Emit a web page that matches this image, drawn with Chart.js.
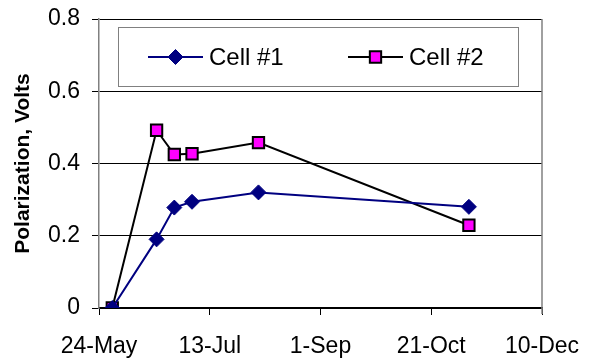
<!DOCTYPE html>
<html>
<head>
<meta charset="utf-8">
<script src="https://cdn.jsdelivr.net/npm/chart.js@4/dist/chart.umd.min.js"></script>
<style>
  html, body { margin: 0; padding: 0; background: #fff; }
  #wrap { width: 592px; height: 358px; }
</style>
</head>
<body>
<div id="wrap"><canvas id="chart" width="592" height="358"></canvas></div>
<script>
// Measurement dates and polarization readings (volts)
const startDate = '2001-05-24';
const dates = ['2001-05-30', '2001-06-19', '2001-06-27', '2001-07-05', '2001-08-04', '2001-11-07'];
const cell1 = [0, 0.19, 0.278, 0.294, 0.32, 0.28];
const cell2 = [0, 0.492, 0.425, 0.427, 0.458, 0.229];
const xTickLabels = ['24-May', '13-Jul', '1-Sep', '21-Oct', '10-Dec'];
const yTickValues = [0, 0.2, 0.4, 0.6, 0.8];

const DAY = 86400000;
const dayOffset = d => Math.round((Date.parse(d) - Date.parse(startDate)) / DAY);
const xDays = dates.map(dayOffset);
const toPoints = vals => vals.map((v, i) => ({ x: xDays[i], y: v }));

const FONT = "'Liberation Sans', Arial, sans-serif";

// Legend drawn as a boxed panel inside the plot area
const boxedLegend = {
  id: 'boxedLegend',
  afterDraw(chart) {
    const { ctx, chartArea: a } = chart;
    const bx = a.left + 19, by = a.top + 8, bw = 400, bh = 59;
    ctx.save();
    ctx.fillStyle = '#fff';
    ctx.fillRect(bx, by, bw, bh);
    ctx.strokeStyle = '#808080';
    ctx.lineWidth = 1;
    ctx.strokeRect(bx + 0.5, by + 0.5, bw, bh);
    const cy = by + 30;
    const items = [
      { ds: chart.data.datasets[0], x: bx + 30 },
      { ds: chart.data.datasets[1], x: bx + 230 }
    ];
    items.forEach(({ ds, x }) => {
      ctx.strokeStyle = ds.borderColor;
      ctx.lineWidth = ds.borderWidth;
      ctx.beginPath();
      ctx.moveTo(x, cy);
      ctx.lineTo(x + 55, cy);
      ctx.stroke();
      ctx.fillStyle = ds.pointBackgroundColor;
      ctx.strokeStyle = ds.pointBorderColor;
      ctx.lineWidth = ds.pointBorderWidth;
      Chart.helpers.drawPoint(ctx, {
        pointStyle: ds.pointStyle,
        radius: ds.pointRadius,
        rotation: 0,
        borderWidth: ds.pointBorderWidth
      }, x + 27.5, cy);
      ctx.fillStyle = '#000';
      ctx.font = '24px ' + FONT;
      ctx.textBaseline = 'middle';
      ctx.textAlign = 'left';
      ctx.fillText(ds.label, x + 61, cy + 1);
    });
    ctx.restore();
  }
};

// Grey right-hand frame edge
const rightFrame = {
  id: 'rightFrame',
  afterDatasetsDraw(chart) {
    const { ctx, chartArea: a } = chart;
    ctx.save();
    ctx.strokeStyle = '#808080';
    ctx.lineWidth = 1.5;
    ctx.beginPath();
    ctx.moveTo(a.right, a.top);
    ctx.lineTo(a.right, a.bottom + 6);
    ctx.stroke();
    ctx.restore();
  }
};

new Chart(document.getElementById('chart'), {
  type: 'line',
  data: {
    datasets: [
      {
        label: 'Cell #1',
        data: toPoints(cell1),
        borderColor: '#000080',
        borderWidth: 2,
        pointStyle: 'rectRot',
        pointRadius: 7.5,
        pointHoverRadius: 7.5,
        pointBackgroundColor: '#000080',
        pointBorderColor: '#000080',
        pointBorderWidth: 1,
        tension: 0
      },
      {
        label: 'Cell #2',
        data: toPoints(cell2),
        borderColor: '#000000',
        borderWidth: 2,
        pointStyle: 'rect',
        pointRadius: 8,
        pointHoverRadius: 8,
        pointBackgroundColor: '#ff00ff',
        pointBorderColor: '#000000',
        pointBorderWidth: 2,
        tension: 0
      }
    ]
  },
  options: {
    responsive: false,
    animation: false,
    events: [],
    layout: { padding: { left: 0, top: 19, right: 50, bottom: 0 } },
    plugins: {
      legend: { display: false },
      tooltip: { enabled: false }
    },
    scales: {
      x: {
        type: 'linear',
        min: 0,
        max: 200,
        afterBuildTicks(scale) {
          scale.ticks = xTickLabels.map((_, i) => ({ value: i * 50 }));
        },
        afterFit(scale) {
          scale.height = 50;
          scale.paddingLeft = 0;
          scale.paddingRight = 0;
        },
        ticks: {
          callback: (v, i) => xTickLabels[i],
          color: '#000',
          font: { family: FONT, size: 23 },
          padding: 18,
          maxRotation: 0,
          autoSkip: false
        },
        grid: {
          drawOnChartArea: false,
          drawTicks: true,
          tickLength: 7,
          color: '#000',
          lineWidth: 1
        },
        border: { display: true, color: '#000', width: 1.5 }
      },
      y: {
        min: 0,
        max: 0.8,
        afterBuildTicks(scale) {
          scale.ticks = yTickValues.map(v => ({ value: v }));
        },
        afterFit(scale) {
          scale.width = 99;
          scale.paddingTop = 0;
          scale.paddingBottom = 0;
        },
        ticks: {
          callback: v => (v === 0 ? '0' : v.toFixed(1)),
          color: '#000',
          font: { family: FONT, size: 23 },
          padding: 12
        },
        grid: {
          drawTicks: true,
          tickLength: 7,
          color: '#000',
          lineWidth: 1
        },
        border: { display: true, color: '#808080', width: 1.5 },
        title: {
          display: true,
          text: 'Polarization, Volts',
          color: '#000',
          font: { family: FONT, size: 21, weight: 'bold' },
          padding: { top: 11, bottom: 0 }
        }
      }
    }
  },
  plugins: [rightFrame, boxedLegend]
});
</script>
</body>
</html>
